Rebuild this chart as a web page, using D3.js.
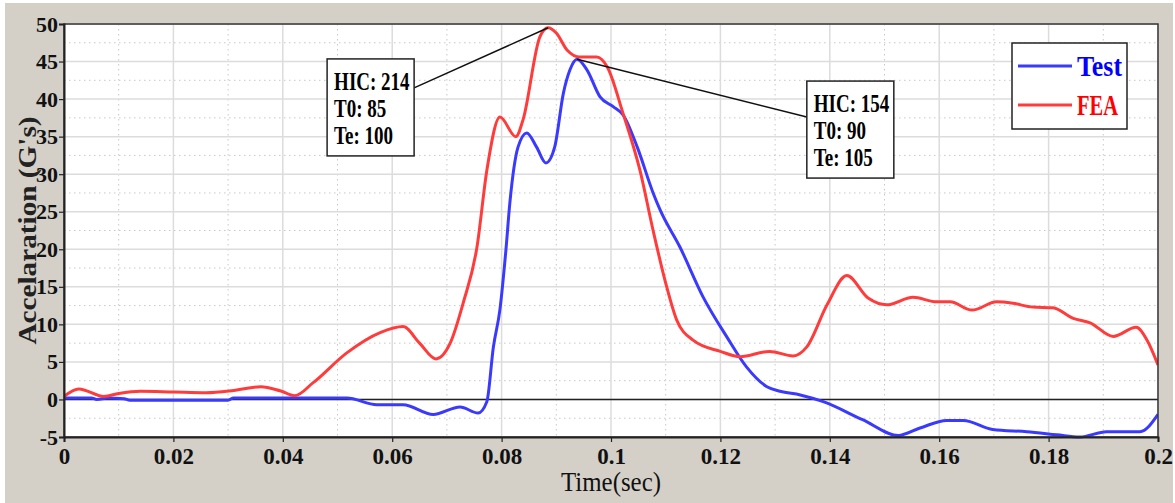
<!DOCTYPE html>
<html>
<head>
<meta charset="utf-8">
<script src="https://cdn.jsdelivr.net/npm/d3@7"></script>
<style>
  html, body { margin: 0; padding: 0; background: #fff; }
  svg { display: block; font-family: "Liberation Serif", "Times New Roman", serif; }
</style>
</head>
<body>
<div id="fig"></div>
<script>
// values
const testTime = [0, 0.005, 0.006, 0.008, 0.011, 0.012, 0.030, 0.031, 0.0517, 0.0572, 0.062, 0.0675,
  0.0724, 0.0757, 0.0773, 0.0785, 0.0797, 0.0808, 0.0815, 0.083, 0.0846, 0.0864, 0.0881, 0.0897,
  0.0913, 0.0925, 0.0938, 0.0956, 0.098, 0.1004, 0.1022, 0.1048, 0.1077, 0.109, 0.1126, 0.1168,
  0.1212, 0.1248, 0.1285, 0.1309, 0.1346, 0.1388, 0.146, 0.1525, 0.1565, 0.1614, 0.1644, 0.1698,
  0.176, 0.1815, 0.1857, 0.1906, 0.1967, 0.2];
const testAccel = [0.2, 0.2, 0.0, 0.2, 0.1, -0.1, -0.1, 0.2, 0.2, -0.7, -0.7, -2.0,
  -1.0, -1.8, -0.3, 7.0, 12.0, 20.0, 26.1, 33.6, 35.5, 33.6, 31.5, 33.6,
  40.8, 43.9, 45.3, 43.9, 40.3, 39.0, 37.9, 33.6, 27.5, 25.2, 20.3, 13.7,
  8.3, 4.3, 1.7, 1.1, 0.6, -0.3, -2.7, -4.8, -3.8, -2.8, -2.8, -4.0,
  -4.3, -4.7, -5.0, -4.3, -4.3, -2.0];

const feaTime = [0, 0.0027, 0.0073, 0.010, 0.014, 0.020, 0.026, 0.031, 0.036, 0.0395, 0.0422, 0.0455,
  0.0517, 0.0578, 0.062, 0.065, 0.068, 0.0706, 0.073, 0.0755, 0.0773, 0.0797, 0.0826, 0.0839,
  0.087, 0.0885, 0.090, 0.092, 0.0943, 0.0974, 0.0993, 0.1022, 0.1053, 0.1077, 0.110, 0.112,
  0.115, 0.120, 0.1236, 0.129, 0.1333, 0.1358, 0.1395, 0.1431, 0.147, 0.1504, 0.1552, 0.1596,
  0.162, 0.166, 0.1705, 0.1735, 0.1771, 0.1808, 0.1845, 0.1876, 0.1918, 0.196, 0.198, 0.2];
const feaAccel = [0.4, 1.4, 0.4, 0.8, 1.1, 1.0, 0.9, 1.2, 1.7, 1.15, 0.5, 2.2,
  6.2, 8.9, 9.7, 7.5, 5.4, 7.5, 12.9, 20.3, 30.5, 37.6, 35.0, 37.2,
  48.3, 49.5, 48.8, 46.5, 45.6, 45.6, 44.3, 38.1, 30.5, 22.5, 15.5, 10.6,
  7.9, 6.4, 5.7, 6.4, 5.8, 7.0, 12.6, 16.5, 13.5, 12.6, 13.6, 13.0,
  13.0, 11.9, 13.0, 12.8, 12.3, 12.2, 10.8, 10.2, 8.4, 9.6, 7.9, 4.6];

const xTicks = [0, 0.02, 0.04, 0.06, 0.08, 0.1, 0.12, 0.14, 0.16, 0.18, 0.2];
const xTickLabels = ['0', '0.02', '0.04', '0.06', '0.08', '0.1', '0.12', '0.14', '0.16', '0.18', '0.2'];
const yTicks = [-5, 0, 5, 10, 15, 20, 25, 30, 35, 40, 45, 50];
const yTickLabels = ['-5', '0', '5', '10', '15', '20', '25', '30', '35', '40', '45', '50'];

const seriesNames = ['Test', 'FEA'];
const seriesColors = ['#3a3aff', '#ff3c3c'];

const feaNote = ['HIC: 214', 'T0: 85', 'Te: 100'];
const testNote = ['HIC: 154', 'T0: 90', 'Te: 105'];

const W = 1175, H = 503;
const margin = { top: 24, right: 17, bottom: 66, left: 64 };
const serif = '"Liberation Serif", "Times New Roman", serif';

const svg = d3.select('#fig').append('svg').attr('width', W).attr('height', H);

// grey panel
svg.append('rect').attr('x', 5).attr('y', 3).attr('width', 1168).attr('height', 500)
  .attr('fill', '#d4d0c8');

const x = d3.scaleLinear().domain([0, 0.2]).range([margin.left, W - margin.right]);
const y = d3.scaleLinear().domain([-5, 50]).range([H - margin.bottom, margin.top]);

const plot = svg.append('g');
plot.append('rect')
  .attr('x', x(0)).attr('y', y(50))
  .attr('width', x(0.2) - x(0)).attr('height', y(-5) - y(50))
  .attr('fill', '#fff');

// grid: dotted halves, solid at ticks
const xMinor = d3.pairs(xTicks).map(p => (p[0] + p[1]) / 2);
const yMinor = d3.pairs(yTicks).map(p => (p[0] + p[1]) / 2);
const grid = plot.append('g');
grid.selectAll('.xm').data(xMinor).join('line')
  .attr('x1', d => x(d)).attr('x2', d => x(d)).attr('y1', y(50)).attr('y2', y(-5))
  .attr('stroke', '#c8c8c8').attr('stroke-dasharray', '1.5,3.5');
grid.selectAll('.ym').data(yMinor).join('line')
  .attr('y1', d => y(d)).attr('y2', d => y(d)).attr('x1', x(0)).attr('x2', x(0.2))
  .attr('stroke', '#c8c8c8').attr('stroke-dasharray', '1.5,3.5');
grid.selectAll('.xg').data(xTicks).join('line')
  .attr('x1', d => x(d)).attr('x2', d => x(d)).attr('y1', y(50)).attr('y2', y(-5))
  .attr('stroke', '#dcdcdc').attr('stroke-width', 1.5);
grid.selectAll('.yg').data(yTicks).join('line')
  .attr('y1', d => y(d)).attr('y2', d => y(d)).attr('x1', x(0)).attr('x2', x(0.2))
  .attr('stroke', '#dcdcdc').attr('stroke-width', 1.5);

// zero line
plot.append('line').attr('x1', x(0)).attr('x2', x(0.2)).attr('y1', y(0)).attr('y2', y(0))
  .attr('stroke', '#222').attr('stroke-width', 1.5);

svg.append('clipPath').attr('id', 'clip').append('rect')
  .attr('x', x(0)).attr('y', y(50) - 2).attr('width', x(0.2) - x(0)).attr('height', y(-5) - y(50) + 4);

const line = d3.line().x(d => x(d[0])).y(d => y(d[1])).curve(d3.curveMonotoneX);
const testPts = d3.zip(testTime, testAccel);
const feaPts = d3.zip(feaTime, feaAccel);

const curves = plot.append('g').attr('clip-path', 'url(#clip)');
[testPts, feaPts].forEach((pts, i) => {
  curves.append('path').datum(pts).attr('d', line)
    .attr('fill', 'none').attr('stroke', seriesColors[i])
    .attr('stroke-width', 3).attr('stroke-linejoin', 'round');
});

// frame
plot.append('rect')
  .attr('x', x(0)).attr('y', y(50))
  .attr('width', x(0.2) - x(0)).attr('height', y(-5) - y(50))
  .attr('fill', 'none').attr('stroke', '#333').attr('stroke-width', 1.5);

// axes
const xAxis = d3.axisBottom(x).tickValues(xTicks).tickFormat((d, i) => xTickLabels[i])
  .tickSize(5).tickPadding(6);
const yAxis = d3.axisLeft(y).tickValues(yTicks).tickFormat((d, i) => yTickLabels[i])
  .tickSize(5).tickPadding(1);

const gx = svg.append('g').attr('transform', `translate(0,${y(-5)})`).call(xAxis);
const gy = svg.append('g').attr('transform', `translate(${x(0)},0)`).call(yAxis);
[gx, gy].forEach(g => {
  g.select('.domain').attr('stroke', '#222').attr('stroke-width', 2);
  g.selectAll('.tick line').attr('stroke', '#222').attr('stroke-width', 1.2);
  g.selectAll('.tick text').attr('fill', '#111')
    .style('font-family', serif).style('font-weight', 'bold').style('font-size', '22px');
});
gx.selectAll('.tick text').style('font-size', '23px');

svg.append('text')
  .attr('x', x(0.1)).attr('y', 491)
  .attr('text-anchor', 'middle')
  .attr('textLength', 100).attr('lengthAdjust', 'spacingAndGlyphs')
  .style('font-size', '27px').attr('fill', '#111')
  .text('Time(sec)');

svg.append('text')
  .attr('transform', `translate(36,${(y(50) + y(-5)) / 2}) rotate(-90)`)
  .attr('text-anchor', 'middle')
  .attr('textLength', 228).attr('lengthAdjust', 'spacingAndGlyphs')
  .style('font-size', '26px').style('font-weight', 'bold').attr('fill', '#222')
  .text("Accelaration (G's)");

// HIC annotations: leader from the series peak to a note box
const notes = [
  { pts: feaPts, lines: feaNote, t: 0.0481, v: 45.35, side: 'right', dy: 29 },
  { pts: testPts, lines: testNote, t: 0.1358, v: 42.4, side: 'left', dy: 36 }
];
const boxW = 87, boxH = 97;
notes.forEach(n => {
  const peak = n.pts[d3.maxIndex(n.pts, d => d[1])];
  const bx = x(n.t), by = y(n.v);
  const lx = n.side === 'right' ? bx + boxW : bx;
  svg.append('line')
    .attr('x1', x(peak[0])).attr('y1', y(peak[1]))
    .attr('x2', lx).attr('y2', by + n.dy)
    .attr('stroke', '#111').attr('stroke-width', 1.5);
  const g = svg.append('g').attr('transform', `translate(${bx},${by})`);
  g.append('rect').attr('width', boxW).attr('height', boxH)
    .attr('fill', '#fff').attr('stroke', '#222').attr('stroke-width', 1.5);
  g.selectAll('text').data(n.lines).join('text')
    .attr('transform', (d, i) => `translate(7,${31 + i * 27}) scale(0.76,1)`)
    .style('font-size', '25px').style('font-weight', 'bold').attr('fill', '#000')
    .text(d => d);
});

// legend
const legend = svg.append('g').attr('transform', 'translate(1012,43)');
legend.append('rect').attr('width', 115).attr('height', 86)
  .attr('fill', '#fff').attr('stroke', '#222').attr('stroke-width', 1.5);
const legendTextW = [45, 41];
seriesNames.forEach((name, i) => {
  const ly = 23 + i * 39;
  legend.append('line').attr('x1', 6).attr('x2', 60).attr('y1', ly).attr('y2', ly)
    .attr('stroke', seriesColors[i]).attr('stroke-width', 3);
  legend.append('text').attr('x', 65).attr('y', ly + 10)
    .attr('textLength', legendTextW[i]).attr('lengthAdjust', 'spacingAndGlyphs')
    .style('font-size', '30px').style('font-weight', 'bold')
    .attr('fill', i === 0 ? '#0000ff' : '#ff0000')
    .text(name);
});
</script>
</body>
</html>
